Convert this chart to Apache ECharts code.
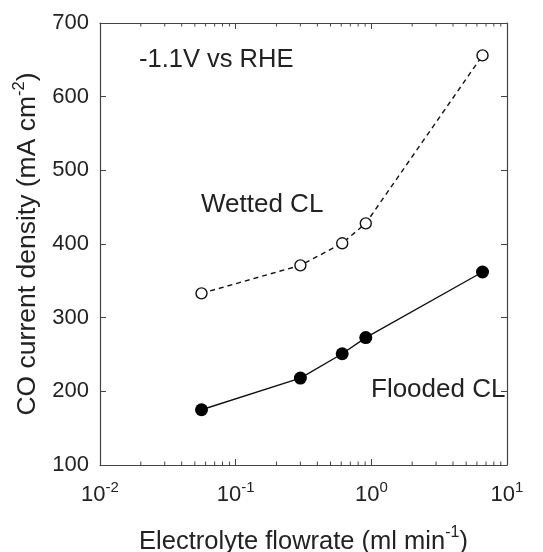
<!DOCTYPE html>
<html>
<head>
<meta charset="utf-8">
<script src="https://cdn.jsdelivr.net/npm/echarts@6/dist/echarts.min.js"></script>
<style>
  html, body { margin: 0; padding: 0; background: #fff; }
  #chart { width: 543px; height: 552px; }
</style>
</head>
<body>
<div id="chart"></div>
<script>
// flowrate (ml/min)
const flowrate = [0.056, 0.3, 0.61, 0.91, 6.6];
const wettedCL = [333, 371, 401, 428, 656];
const floodedCL = [175, 218, 251, 273, 362];
const xTickExps = { "0.01": "-2", "0.1": "-1", "1": "0", "10": "1" };
const minorTickValues = [];
[0.01, 0.1, 1].forEach(function (d) {
  for (let k = 2; k <= 9; k++) minorTickValues.push(+(k * d).toPrecision(3));
});

const FONT = "Liberation Sans";
const ink = "#222";
const frame = "#444";

const chart = echarts.init(document.getElementById("chart"));

// rich styles for "10^-2" style tick labels
const tickRich = {
  b: { fontSize: 22, lineHeight: 30, color: ink, fontFamily: FONT },
  s: { fontSize: 15, lineHeight: 14, verticalAlign: "top", color: ink, fontFamily: FONT }
};
// rich styles for axis names
const xNameRich = {
  b: { fontSize: 25.5, lineHeight: 34, color: ink, fontFamily: FONT },
  s: { fontSize: 16, lineHeight: 16, verticalAlign: "top", color: ink, fontFamily: FONT }
};
const yNameRich = {
  b: { fontSize: 26.5, lineHeight: 34, color: ink, fontFamily: FONT },
  s: { fontSize: 16.5, lineHeight: 16, verticalAlign: "top", color: ink, fontFamily: FONT }
};

function xPair(x) {
  return [x, 100];
}

const option = {
  animation: false,
  textStyle: { fontFamily: FONT },
  grid: { left: 100, right: 36, top: 23, bottom: 87, outerBoundsMode: "none", containLabel: false },
  xAxis: [
    {
      type: "log",
      logBase: 10,
      min: 0.01,
      max: 10,
      name: "{b|Electrolyte flowrate (ml min}{s|-1}{b|)}",
      nameLocation: "middle",
      nameGap: 60,
      nameTextStyle: { rich: xNameRich },
      axisLine: { show: true, onZero: false, lineStyle: { color: frame, width: 1.2 } },
      axisTick: { inside: true, length: 6, lineStyle: { color: frame } },
      splitLine: { show: false },
      axisLabel: {
        margin: 15,
        formatter: function (v) {
          const e = xTickExps[String(+v.toPrecision(3))];
          return "{b|10}{s|" + e + "}";
        },
        rich: tickRich
      }
    },
    {
      type: "log",
      logBase: 10,
      min: 0.01,
      max: 10,
      position: "top",
      axisLine: { show: true, onZero: false, lineStyle: { color: frame, width: 1.2 } },
      axisTick: { inside: true, length: 6, lineStyle: { color: frame } },
      axisLabel: { show: false },
      splitLine: { show: false }
    }
  ],
  yAxis: [
    {
      type: "value",
      min: 100,
      max: 700,
      interval: 100,
      name: "{b|CO current density (mA cm}{s|-2}{b|)}",
      nameLocation: "middle",
      nameGap: 53,
      nameTextStyle: { rich: yNameRich },
      axisLine: { show: true, lineStyle: { color: frame, width: 1.2 } },
      axisTick: { inside: true, length: 6, lineStyle: { color: frame } },
      splitLine: { show: false },
      axisLabel: { color: ink, fontSize: 22, margin: 11, fontFamily: FONT }
    },
    {
      type: "value",
      min: 100,
      max: 700,
      interval: 100,
      position: "right",
      axisLine: { show: true, lineStyle: { color: frame, width: 1.2 } },
      axisTick: { inside: true, length: 6, lineStyle: { color: frame } },
      axisLabel: { show: false },
      splitLine: { show: false }
    }
  ],
  graphic: [
    { type: "text", left: 139, top: 47, style: { text: "-1.1V vs RHE", fontSize: 25.5, fill: ink, fontFamily: FONT } },
    { type: "text", left: 201, top: 192, style: { text: "Wetted CL", fontSize: 26, fill: ink, fontFamily: FONT } },
    { type: "text", left: 371, top: 377, style: { text: "Flooded CL", fontSize: 26, fill: ink, fontFamily: FONT } }
  ],
  series: [
    {
      name: "Wetted CL",
      type: "line",
      data: flowrate.map(function (x, i) { return [x, wettedCL[i]]; }),
      symbol: "circle",
      symbolSize: 11,
      lineStyle: { color: "#111", width: 1.4, type: [5, 4] },
      itemStyle: { color: "#fff", borderColor: "#111", borderWidth: 1.4 },
      z: 3
    },
    {
      name: "Flooded CL",
      type: "line",
      data: flowrate.map(function (x, i) { return [x, floodedCL[i]]; }),
      symbol: "circle",
      symbolSize: 13,
      lineStyle: { color: "#111", width: 1.4 },
      itemStyle: { color: "#000", borderColor: "#000", borderWidth: 0 },
      z: 3
    },
    {
      // minor ticks of the log axis (2..9 in each decade), top and bottom
      type: "custom",
      silent: true,
      data: minorTickValues.map(xPair),
      renderItem: function (params, api) {
        const bottom = api.coord([api.value(0), 100]);
        const top = api.coord([api.value(0), 700]);
        const style = { stroke: frame, lineWidth: 1 };
        return {
          type: "group",
          children: [
            { type: "line", shape: { x1: bottom[0], y1: bottom[1], x2: bottom[0], y2: bottom[1] - 3.5 }, style: style },
            { type: "line", shape: { x1: top[0], y1: top[1], x2: top[0], y2: top[1] + 3.5 }, style: style }
          ]
        };
      },
      z: 1
    }
  ]
};

chart.setOption(option);
window.addEventListener("resize", function () {
  chart.resize();
});
</script>
</body>
</html>
